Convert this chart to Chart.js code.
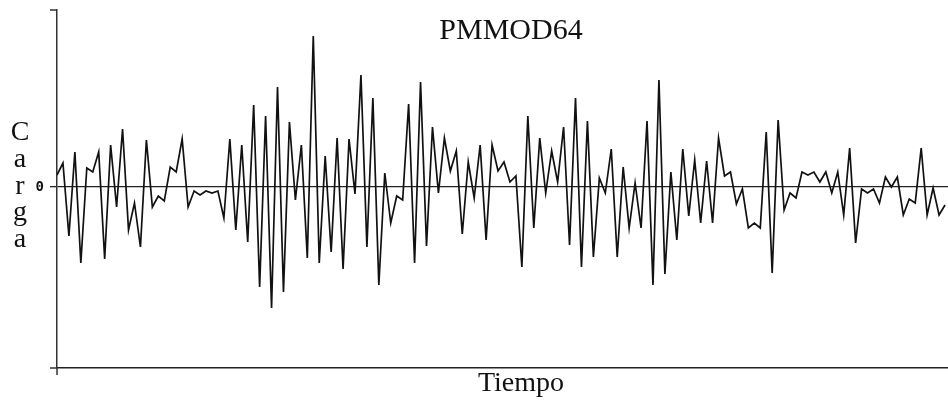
<!DOCTYPE html>
<html>
<head>
<meta charset="utf-8">
<script src="https://cdn.jsdelivr.net/npm/chart.js@4.4.1/dist/chart.umd.min.js"></script>
<style>
  html, body { margin: 0; padding: 0; background: #fff; }
  #wrap { width: 948px; height: 406px; }
</style>
</head>
<body>
<div id="wrap"><canvas id="chart"></canvas></div>
<script>
const title = "PMMOD64";
const xTitle = "Tiempo";
const yTitle = "Carga";
const zeroLabel = "0";

// carga, one value per time step
const carga = [
    12, 24, -49, 35, -76, 19, 15, 35, -72, 42, -20, 58, -43, -16, -60, 47, -20, -9, -14, 20, 15, 48, -20, -4, -8, -4,
    -6, -4, -31, 48, -43, 42, -55, 82, -100, 71, -121, 100, -105, 65, -13, 42, -71, 151, -76, 31, -65, 49, -82, 48, -7,
    112, -60, 89, -98, 14, -36, -9, -13, 83, -76, 105, -59, 60, -6, 49, 16, 36, -47, 25, -11, 42, -53, 42, 16, 25, 5,
    11, -80, 71, -41, 49, -6, 36, 5, 60, -58, 89, -80, 66, -70, 9, -6, 38, -70, 20, -41, 4, -41, 66, -98, 107,
    -87, 15, -53, 38, -29, 27, -36, 26, -36, 49, 11, 15, -17, -2, -41, -36, -41, 55, -86, 67, -23, -6, -11, 15, 12,
    15, 5, 15, -6, 15, -28, 39, -56, -2, -6, -2, -16, 10, 0, 10, -28, -12, -16, 39, -28, -1, -28, -18
];

const tiempo = carga.map((v, i) => i);

// small extras: axis ends and the free standing texts
const extras = {
    id: "extras",
    afterDraw(chart) {
        const { ctx, chartArea: a } = chart;
        ctx.save();
        ctx.strokeStyle = "#333";
        ctx.lineWidth = 1.5;
        ctx.beginPath();
        ctx.moveTo(a.left - 7, a.top);
        ctx.lineTo(a.left, a.top);
        ctx.moveTo(a.left - 7, a.bottom);
        ctx.lineTo(a.left, a.bottom);
        ctx.moveTo(a.left, a.bottom);
        ctx.lineTo(a.left, a.bottom + 7);
        ctx.stroke();

        ctx.fillStyle = "#111";
        ctx.textAlign = "center";
        ctx.textBaseline = "alphabetic";
        ctx.font = '30px "Liberation Serif"';
        ctx.fillText(title, 511, 39);
        ctx.font = '28px "Liberation Serif"';
        ctx.fillText(xTitle, 521, 391);

        ctx.font = '28px "Liberation Serif"';
        yTitle.split("").forEach((ch, i) => {
            ctx.fillText(ch, 20, 140 + i * 26.8);
        });
        ctx.restore();
    }
};

new Chart(document.getElementById("chart"), {
    type: "line",
    data: {
        labels: tiempo,
        datasets: [{
            data: carga,
            borderColor: "#111",
            borderWidth: 1.7,
            pointRadius: 0,
            tension: 0,
            fill: false
        }]
    },
    options: {
        responsive: true,
        maintainAspectRatio: false,
        animation: false,
        devicePixelRatio: 1,
        layout: { padding: { top: 10, right: 0, bottom: 0, left: 0 } },
        plugins: {
            legend: { display: false },
            tooltip: { enabled: false }
        },
        scales: {
            x: {
                type: "linear",
                min: 0,
                max: 149.5,
                grid: { display: false },
                border: { display: true, color: "#222", width: 1.5 },
                ticks: { display: false },
                afterFit: s => { s.height = 38; s.paddingLeft = 0; s.paddingRight = 0; }
            },
            y: {
                min: -181,
                max: 177,
                afterBuildTicks: s => { s.ticks = [{ value: 0 }]; },
                afterFit: s => { s.width = 57; s.paddingTop = 0; s.paddingBottom = 0; },
                grid: {
                    color: "#222",
                    lineWidth: 1.3,
                    tickLength: 7,
                    drawTicks: true
                },
                border: { display: true, color: "#333", width: 1.5 },
                ticks: {
                    padding: 6,
                    color: "#111",
                    font: { family: "DejaVu Sans Mono", size: 14, weight: "bold" },
                    callback: () => zeroLabel
                }
            }
        }
    },
    plugins: [extras]
});
</script>
</body>
</html>
